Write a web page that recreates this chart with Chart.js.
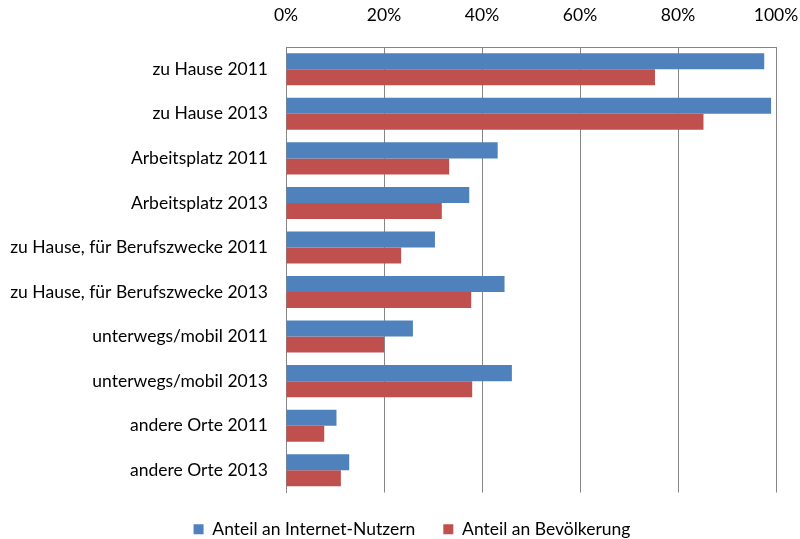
<!DOCTYPE html>
<html><head><meta charset="utf-8">
<script src="https://cdn.jsdelivr.net/npm/chart.js@4"></script>
<style>html,body{margin:0;padding:0;background:#fff}#wrap{width:800px;height:539px;overflow:hidden}</style>
</head><body><div id="wrap"><canvas id="c" width="800" height="539"></canvas></div>
<script>
const categories = ["zu Hause 2011","zu Hause 2013","Arbeitsplatz 2011","Arbeitsplatz 2013","zu Hause, für Berufszwecke 2011","zu Hause, für Berufszwecke 2013","unterwegs/mobil 2011","unterwegs/mobil 2013","andere Orte 2011","andere Orte 2013"];
const internetNutzer = [97.6, 99.0, 43.2, 37.4, 30.4, 44.6, 25.9, 46.1, 10.3, 12.9];
const bevoelkerung = [75.3, 85.2, 33.3, 31.8, 23.5, 37.8, 20.0, 38.0, 7.8, 11.2];
const xTicks = [0, 20, 40, 60, 80, 100];
const seriesNames = ["Anteil an Internet-Nutzern", "Anteil an Bevölkerung"];

const FONT = "Lato, 'Open Sans', sans-serif";
const FS = 17.5;
Chart.defaults.font.family = FONT;
Chart.defaults.color = "#000";

const shiftLegend = {
  id: 'shiftLegend',
  afterLayout(chart) {
    if (chart.legend) { chart.legend.left += 24; chart.legend.right += 24; }
  }
};

new Chart(document.getElementById('c'), {
  type: 'bar',
  data: {
    labels: categories,
    datasets: [
      {label: seriesNames[0], data: internetNutzer, backgroundColor: '#4F81BD', borderWidth: 0},
      {label: seriesNames[1], data: bevoelkerung, backgroundColor: '#C0504D', borderWidth: 0}
    ]
  },
  plugins: [shiftLegend],
  options: {
    indexAxis: 'y',
    responsive: false,
    animation: false,
    devicePixelRatio: 1,
    datasets: {bar: {barPercentage: 1.0, categoryPercentage: 0.72}},
    layout: {padding: {left: 0, right: 24, top: 0, bottom: -9}},
    scales: {
      x: {
        position: 'top',
        min: 0, max: 100,
        afterBuildTicks: (s) => { s.ticks = xTicks.map(v => ({value: v})); },
        afterFit: (s) => { s.height = 47; s.paddingLeft = 0; s.paddingRight = 0; },
        ticks: {callback: v => v + '%', font: {size: FS}, padding: 21, maxRotation: 0},
        grid: {color: '#868686', lineWidth: 1, drawTicks: false},
        border: {display: true, color: '#868686'}
      },
      y: {
        afterFit: (s) => { s.width = 286; s.paddingTop = 0; s.paddingBottom = 0; },
        ticks: {font: {size: FS}, padding: 18, autoSkip: false},
        grid: {display: false, drawTicks: false},
        border: {display: true, color: '#868686'}
      }
    },
    plugins: {
      legend: {
        position: 'bottom',
        labels: {boxWidth: 10, boxHeight: 10, font: {size: FS}, padding: 28}
      },
      tooltip: {enabled: false}
    }
  }
});
</script></body></html>
